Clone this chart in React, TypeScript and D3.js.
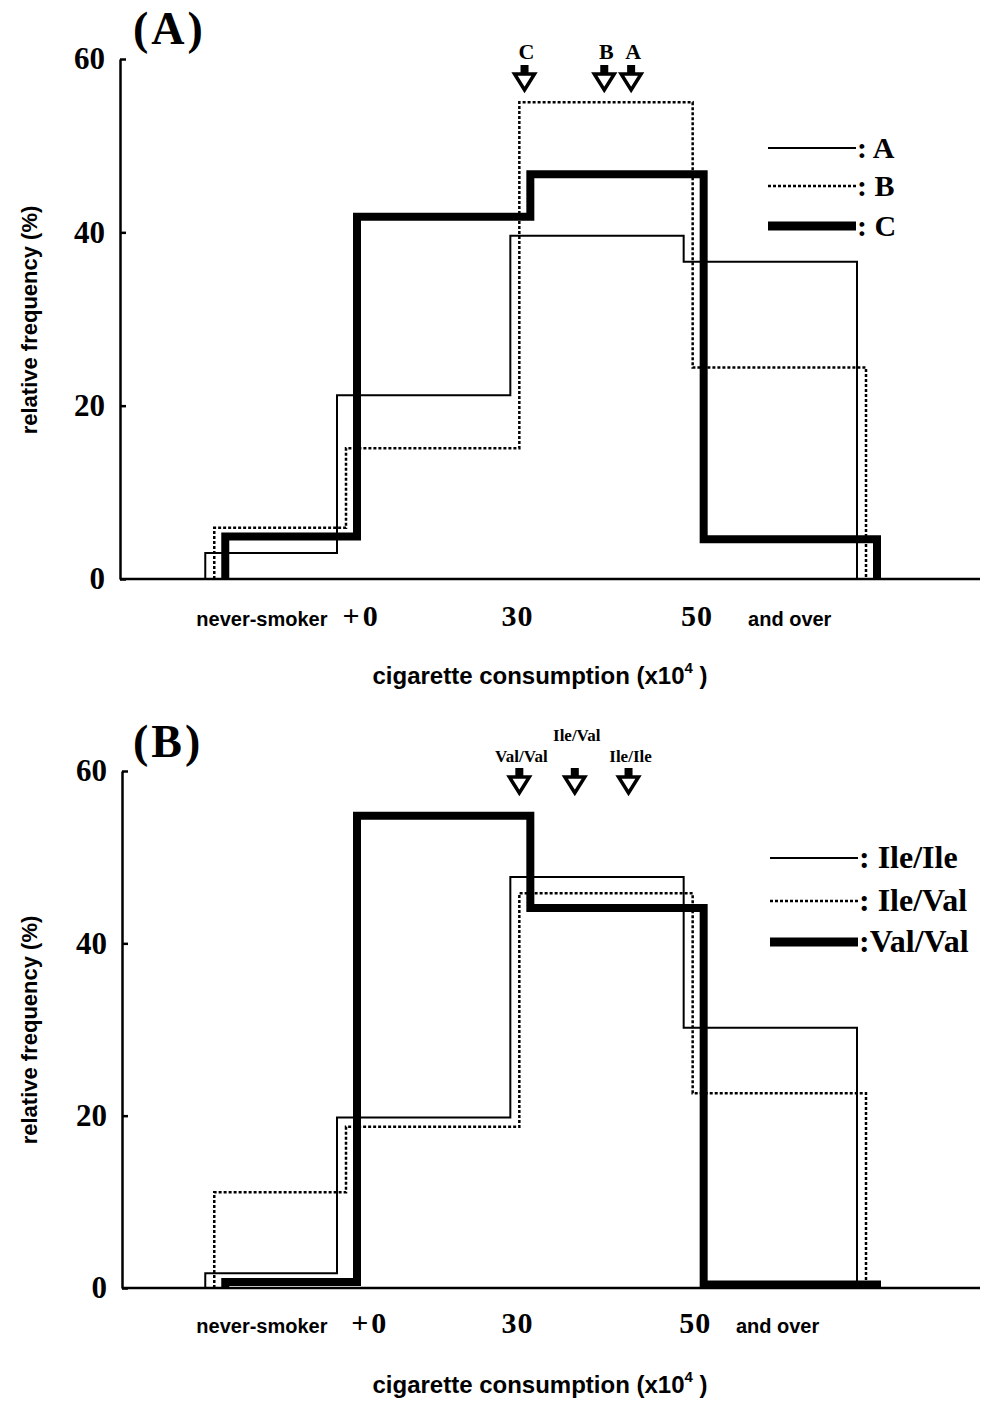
import React, { useEffect, useRef } from 'react';
import * as d3 from 'd3';

const W = 992;
const H = 1401;

// bin edges on the category axis: never-smoker | +0-30 | 30-50 | 50 and over
const binEdges = [0.24, 1, 2, 3, 4];
const yTicks = [0, 20, 40, 60];

// panel (A)
const valuesA_A = [3.0, 21.2, 39.6, 36.6];
const valuesA_B = [5.9, 15.1, 55.0, 24.4];
const valuesA_C = [4.9, 41.8, 46.7, 4.6];
const legendA = [': A', ': B', ': C'];
const arrowLabelsA = ['C', 'B', 'A'];
const arrowPosA = [2.03, 2.49, 2.645];
const tickTextA = ['never-smoker', '+0', '30', '50', 'and over'];
const tickPosA = [0.515, 1.09, 1.99, 3.025, 3.56];

// panel (B)
const valuesB_II = [1.7, 19.8, 47.7, 30.2];
const valuesB_IV = [11.1, 18.7, 45.8, 22.6];
const valuesB_VV = [0.7, 54.8, 44.1, 0.4];
const legendB = [': Ile/Ile', ': Ile/Val', ':Val/Val'];
const arrowLabelsB = ['Val/Val', 'Ile/Val', 'Ile/Ile'];
const arrowPosB = [2.0, 2.32, 2.63];
const tickTextB = ['never-smoker', '+0', '30', '50', 'and over'];
const tickPosB = [0.515, 1.14, 1.99, 3.015, 3.49];

const SERIF = '"Liberation Serif", "Times New Roman", serif';
const SANS = '"Liberation Sans", Arial, sans-serif';

// thin solid, dotted, thick
const lineStyles = [
    { width: 2, dash: null, offset: -9 },
    { width: 2.5, dash: '3 2', offset: 0 },
    { width: 8, dash: null, offset: 11 },
];

const panels = [
    {
        title: '(A)', titleY: 44, top: 59, bottom: 579, axisX: 120,
        series: [valuesA_A, valuesA_B, valuesA_C], legend: legendA, legendY: [148, 186, 226],
        legendX: 768, legendFont: 30,
        arrows: arrowLabelsA, arrowPos: arrowPosA, arrowTip: 92, arrowFont: 22, raised: -1,
        ticks: tickTextA, tickPos: tickPosA, tickDy: 47, ylabelY: 320, titleDy: 105,
    },
    {
        title: '(B)', titleY: 757, top: 771, bottom: 1288, axisX: 122,
        series: [valuesB_II, valuesB_IV, valuesB_VV], legend: legendB, legendY: [858, 901, 942],
        legendX: 770, legendFont: 32,
        arrows: arrowLabelsB, arrowPos: arrowPosB, arrowTip: 795, arrowFont: 17, raised: 1,
        ticks: tickTextB, tickPos: tickPosB, tickDy: 45, ylabelY: 1030, titleDy: 105,
    },
];

const App = () => {
    const svgRef = useRef(null);

    useEffect(() => {
        const svg = d3.select(svgRef.current);
        svg.selectAll('*').remove();

        const x = d3.scaleLinear().domain([1, 4]).range([346, 866]);

        panels.forEach(p => {
            const y = d3.scaleLinear().domain([0, 60]).range([p.bottom, p.top]);
            const g = svg.append('g');

            // y axis, ticks pointing inward
            const yAxis = d3.axisLeft(y)
                .tickValues(yTicks)
                .tickSizeInner(-6)
                .tickSizeOuter(0)
                .tickPadding(15);
            const ya = g.append('g')
                .attr('transform', `translate(${p.axisX},0)`)
                .call(yAxis);
            ya.select('.domain').attr('stroke-width', 2.5);
            ya.selectAll('.tick line').attr('stroke-width', 2.5);
            ya.selectAll('.tick text')
                .attr('font-family', SERIF)
                .attr('font-weight', 'bold')
                .attr('font-size', 31)
                .attr('fill', '#000');

            // baseline
            g.append('line')
                .attr('x1', p.axisX).attr('x2', 980)
                .attr('y1', y(0)).attr('y2', y(0))
                .attr('stroke', '#000').attr('stroke-width', 2.5);

            // step outlines
            p.series.forEach((vals, si) => {
                const st = lineStyles[si];
                const pts = [[binEdges[0], 0]];
                vals.forEach((v, i) => {
                    pts.push([binEdges[i], v]);
                    pts.push([binEdges[i + 1], v]);
                });
                pts.push([binEdges[binEdges.length - 1], 0]);
                const line = d3.line()
                    .x(d => x(d[0]) + st.offset)
                    .y(d => y(d[1]));
                g.append('path')
                    .attr('d', line(pts))
                    .attr('fill', 'none')
                    .attr('stroke', '#000')
                    .attr('stroke-width', st.width)
                    .attr('stroke-dasharray', st.dash)
                    .attr('stroke-linejoin', 'miter');
            });

            // mean arrows
            p.arrows.forEach((lab, i) => {
                const cx = x(p.arrowPos[i]);
                const tip = p.arrowTip;
                g.append('rect')
                    .attr('x', cx - 4).attr('y', tip - 27)
                    .attr('width', 8).attr('height', 8)
                    .attr('fill', '#000');
                g.append('path')
                    .attr('d', `M${cx - 10},${tip - 18}L${cx + 10},${tip - 18}L${cx},${tip - 2}Z`)
                    .attr('fill', '#fff')
                    .attr('stroke', '#000')
                    .attr('stroke-width', 3.5)
                    .attr('stroke-linejoin', 'miter');
                g.append('text')
                    .attr('x', cx + 2)
                    .attr('y', tip - (i === p.raised ? 54 : 33))
                    .attr('text-anchor', 'middle')
                    .attr('font-family', SERIF)
                    .attr('font-weight', 'bold')
                    .attr('font-size', p.arrowFont)
                    .text(lab);
            });

            // legend
            p.legend.forEach((lab, i) => {
                const st = lineStyles[i];
                const ly = p.legendY[i];
                g.append('line')
                    .attr('x1', p.legendX).attr('x2', p.legendX + 88)
                    .attr('y1', ly).attr('y2', ly)
                    .attr('stroke', '#000')
                    .attr('stroke-width', i === 2 ? 9 : st.width)
                    .attr('stroke-dasharray', st.dash);
                g.append('text')
                    .attr('x', p.legendX + 89)
                    .attr('y', ly + 10)
                    .attr('font-family', SERIF)
                    .attr('font-weight', 'bold')
                    .attr('font-size', p.legendFont)
                    .text(lab);
            });

            // category labels
            p.ticks.forEach((t, i) => {
                const numeric = /\d/.test(t);
                g.append('text')
                    .attr('x', x(p.tickPos[i]))
                    .attr('y', y(0) + p.tickDy)
                    .attr('text-anchor', 'middle')
                    .attr('font-family', numeric ? SERIF : SANS)
                    .attr('font-weight', 'bold')
                    .attr('font-size', numeric ? 30 : 20)
                    .attr('letter-spacing', numeric ? (t.startsWith('+') ? 3 : 1) : 0)
                    .text(t);
            });

            // panel title
            g.append('text')
                .attr('x', 133).attr('y', p.titleY)
                .attr('font-family', SERIF)
                .attr('font-weight', 'bold')
                .attr('font-size', 46)
                .attr('letter-spacing', 3)
                .text(p.title);

            // y label
            g.append('text')
                .attr('transform', `translate(37,${p.ylabelY}) rotate(-90)`)
                .attr('text-anchor', 'middle')
                .attr('font-family', SANS)
                .attr('font-weight', 'bold')
                .attr('font-size', 22)
                .text('relative frequency (%)');

            // x title
            const xt = g.append('text')
                .attr('x', 540)
                .attr('y', y(0) + p.titleDy)
                .attr('text-anchor', 'middle')
                .attr('font-family', SANS)
                .attr('font-weight', 'bold')
                .attr('font-size', 24);
            xt.append('tspan').text('cigarette consumption  (x10');
            xt.append('tspan').attr('dy', -11).attr('font-size', 15).text('4');
            xt.append('tspan').attr('dy', 11).text(' )');
        });
    }, []);

    return (
        <svg
            ref={svgRef}
            width={W}
            height={H}
            style={{ position: 'absolute', left: 0, top: 0, background: '#fff' }}
        />
    );
};

export default App;
